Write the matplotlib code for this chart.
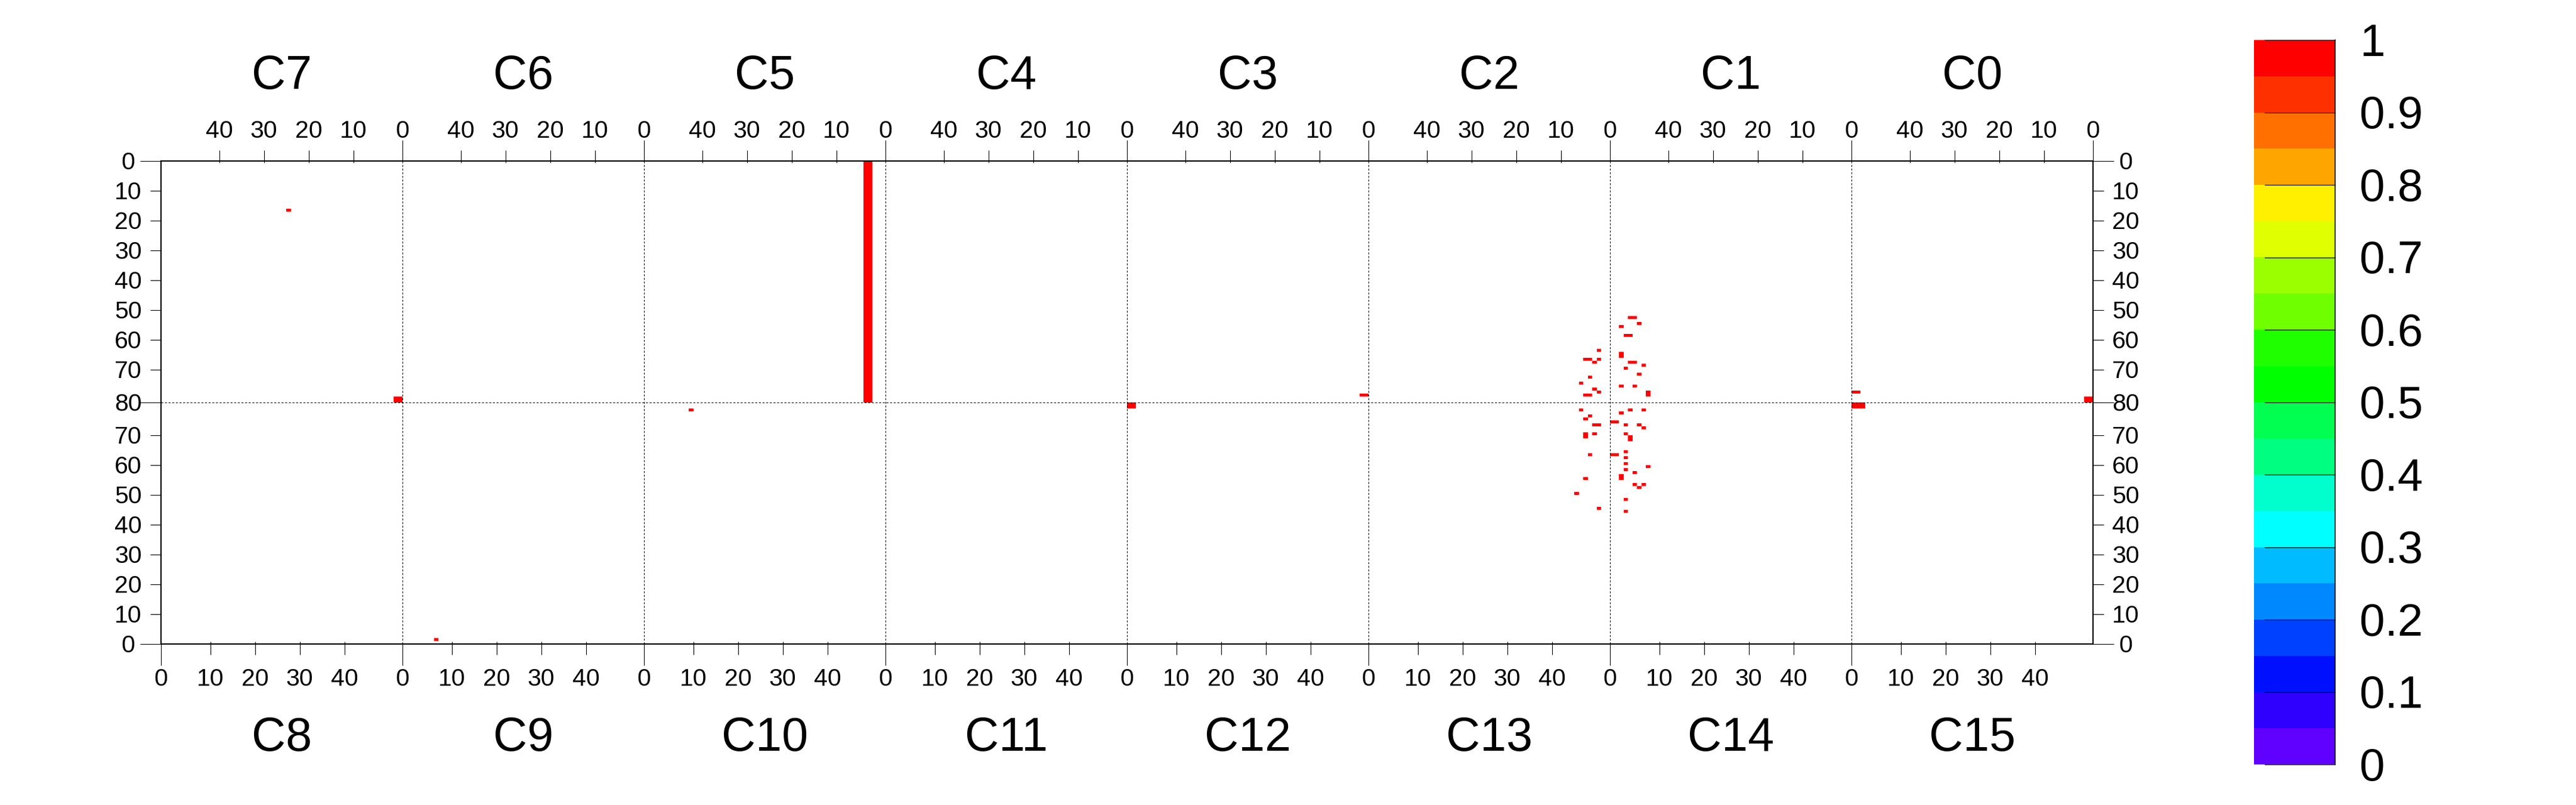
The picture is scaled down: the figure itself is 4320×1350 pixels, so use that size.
import numpy as np
import matplotlib
matplotlib.use('Agg')
import matplotlib.pyplot as plt
from matplotlib.colors import ListedColormap

plt.rcParams['font.family'] = ['Liberation Sans', 'DejaVu Sans']

top_channels = ['C7', 'C6', 'C5', 'C4', 'C3', 'C2', 'C1', 'C0']
bottom_channels = ['C8', 'C9', 'C10', 'C11', 'C12', 'C13', 'C14', 'C15']
x_tick_values = [10, 20, 30, 40]
y_tick_values = [0, 10, 20, 30, 40, 50, 60, 70, 80]

# hot cells, as runs of bins: column, row, width, height
hot_col = [28, 52, 61, 118, 157, 216, 268, 378, 378, 430,
           328, 330, 326, 327, 321, 326, 318, 321, 320, 328, 331, 327, 330, 319,
           317, 326, 329, 320, 321, 332, 318, 317, 328, 331, 326, 319, 318, 324,
           320, 327, 330, 331, 318, 320, 327, 328, 327, 319, 324, 327, 327, 332,
           327, 329, 326, 318, 329, 331, 330, 316, 327, 321, 327]
hot_row = [16, 79, 160, 83, 0, 81, 78, 77, 81, 79,
           52, 54, 55, 58, 63, 64, 66, 66, 67, 67, 68, 69, 71, 72,
           74, 75, 75, 76, 77, 77, 78, 83, 83, 83, 84, 85, 86, 87,
           88, 88, 88, 89, 91, 91, 91, 92, 97, 98, 98, 99, 101, 102,
           103, 104, 105, 106, 108, 108, 109, 111, 113, 116, 117]
hot_w = [1, 2, 1, 1, 2, 2, 2, 2, 3, 2,
         2, 1, 1, 2, 1, 1, 2, 1, 1, 2, 1, 1, 1, 1,
         1, 1, 1, 1, 1, 1, 2, 1, 1, 1, 1, 1, 1, 2,
         2, 1, 1, 1, 1, 1, 1, 1, 1, 1, 2, 1, 1, 1,
         1, 1, 1, 1, 1, 1, 1, 1, 1, 1, 1]
hot_h = [1, 2, 1, 1, 81, 2, 1, 1, 2, 2,
         1, 1, 1, 1, 1, 2, 1, 1, 1, 1, 1, 1, 1, 1,
         1, 1, 1, 1, 1, 2, 1, 1, 1, 1, 1, 1, 1, 1,
         1, 1, 1, 1, 2, 1, 1, 2, 1, 1, 1, 1, 1, 1,
         1, 1, 2, 1, 1, 1, 1, 1, 1, 1, 1]

bar_colors = ['#6000ff', '#3000ff', '#0010ff', '#0040ff', '#0088ff',
              '#00bbff', '#00ffff', '#00ffcc', '#00ff80', '#00ff50',
              '#00ff00', '#20ff00', '#70ff00', '#9bff00', '#e0ff00',
              '#fff000', '#ffa500', '#ff7000', '#ff3000', '#ff0000']
bar_ticks = [0, 0.1, 0.2, 0.3, 0.4, 0.5, 0.6, 0.7, 0.8, 0.9, 1]
bar_labels = ['0', '0.1', '0.2', '0.3', '0.4', '0.5', '0.6', '0.7', '0.8', '0.9', '1']

n_chan, n_bins, n_rows = 8, 54, 162
mid_row = 81
thin, thick = 0.8, 1.5
tick_size, title_size, bar_size = 29.5, 57, 55

cmap = ListedColormap(bar_colors)
cmap.set_bad((1, 1, 1, 0))

fig = plt.figure(figsize=(43.2, 13.5), dpi=100)
ax = fig.add_axes([270/4320, 270/1350, 3240/4320, 810/1350])

hits = np.zeros((n_rows, n_chan*n_bins))
for c, r, w, h in zip(hot_col, hot_row, hot_w, hot_h):
    hits[r:r+h, c:c+w] = 1
ax.pcolormesh(np.arange(n_chan*n_bins+1), np.arange(n_rows+1),
              np.ma.masked_equal(hits, 0), cmap=cmap, vmin=0, vmax=1)
ax.set_xlim(0, n_chan*n_bins)
ax.set_ylim(n_rows, 0)
ax.set_xticks([])
ax.set_yticks([])
for s in ax.spines.values():
    s.set_linewidth(thick)

# channel boundaries and the middle line
dash = (0, (3, 2.5))
for k in range(1, n_chan):
    ax.plot([k*n_bins]*2, [0, n_rows], color='k', lw=thin, ls=dash, zorder=3)
ax.plot([0, n_chan*n_bins], [mid_row]*2, color='k', lw=thin, ls=dash, zorder=3)


def mark(xs, ys):
    ax.plot(xs, ys, color='k', lw=thin, clip_on=False, zorder=4, solid_capstyle='butt')


def label(a, x, y, s, size=tick_size, ha='center'):
    # va='center' would count the descent, so put the baseline half a digit below y
    a.annotate(s, (x, y), xytext=(0, -0.35*size), textcoords='offset points',
               fontsize=size, ha=ha, va='baseline', annotation_clip=False)


for k in range(n_chan):
    left, right = k*n_bins, (k+1)*n_bins
    # top strip runs right to left, bottom strip left to right
    mark([right, right], [-7, 0])
    label(ax, right, -10.6, '0')
    mark([left, left], [n_rows, n_rows+7.2])
    label(ax, left, 173.2, '0')
    for v in x_tick_values:
        mark([right-(v+1)]*2, [-3.6, 0.6])
        label(ax, right-(v+1), -10.6, str(v))
        mark([left+v+1]*2, [n_rows-0.8, n_rows+3.6])
        label(ax, left+v+1, 173.2, str(v))
    label(ax, (left+right)/2, -29.8, top_channels[k], title_size)
    label(ax, (left+right)/2, 192.2, bottom_channels[k], title_size)

x_end = n_chan*n_bins
for v in y_tick_values:
    rows = [mid_row] if v == 80 else [v, n_rows-v]
    tick = 4.67 if v in (0, 80) else 2.4
    for r in rows:
        mark([-tick, 0], [r, r])
        mark([x_end, x_end+tick], [r, r])
        label(ax, -7.33, r, str(v))
        label(ax, x_end+7.33, r, str(v))

# colour bar
cax = fig.add_axes([3780/4320, 68/1350, 136/4320, 1215/1350])
cax.pcolormesh([0, 1], np.linspace(0, 1, len(bar_colors)+1),
               np.array(range(len(bar_colors))).reshape(-1, 1),
               cmap=cmap, vmin=-0.5, vmax=len(bar_colors)-0.5)
cax.set_xlim(0, 1)
cax.set_ylim(0, 1)
cax.axis('off')
cax.plot([1, 1], [0, 1], color='k', lw=thick*0.75, clip_on=False)
for t, s in zip(bar_ticks, bar_labels):
    cax.plot([0.132, 1], [t, t], color='k', lw=thin, clip_on=False)
    label(cax, 1.3, t, s, bar_size, ha='left')

fig.savefig('out.png', dpi=100)
